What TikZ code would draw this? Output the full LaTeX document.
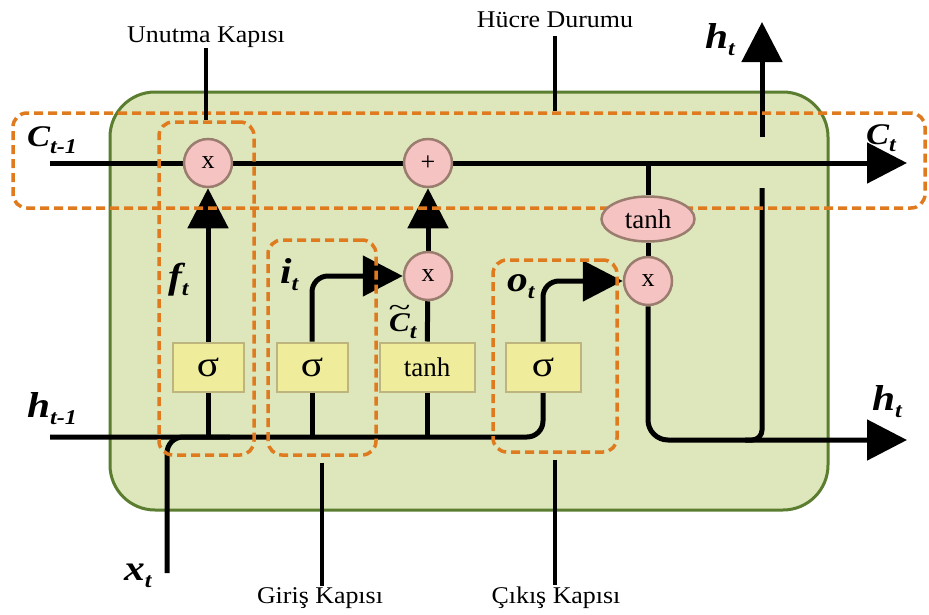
\documentclass[tikz,border=0pt]{standalone}
\usepackage{fontspec}
\usepackage{graphicx}
\setmainfont{Liberation Serif}
\newfontfamily\capfont[FakeStretch=1.08]{Liberation Serif}
\newfontfamily\wideserif[FakeStretch=1.15]{Liberation Serif}
\usetikzlibrary{arrows.meta,shapes.geometric}

\definecolor{cellfill}{HTML}{DDE7BB}
\definecolor{celledge}{HTML}{5A7D2F}
\definecolor{gateorange}{HTML}{E07A1F}
\definecolor{oppink}{HTML}{F5C3C1}
\definecolor{opedge}{HTML}{9B7D70}
\definecolor{actfill}{HTML}{EFEC9C}
\definecolor{actedge}{HTML}{BDB47E}

\pgfdeclarelayer{cellbg}
\pgfdeclarelayer{wires}
\pgfdeclarelayer{gates}
\pgfsetlayers{cellbg,wires,gates,main}

% subscript for the bold italic symbols
\newcommand\lowsub[1]{\raisebox{-7pt}{\fontsize{21}{21}\selectfont #1}}
% wide tilde set over a letter
\newcommand\widetil[1]{\ooalign{#1\cr\hidewidth\raisebox{0.55em}{\mdseries\upshape\scalebox{1.3}[1]{\char"007E}}\hidewidth\cr}}

\tikzset{
  cell/.style={rectangle, rounded corners=45pt, fill=cellfill, draw=celledge,
    line width=3pt, inner sep=0pt},
  wire/.style={line width=5pt, black},
  flow/.style={wire, -{Triangle[length=40pt,width=40pt]}},
  tick/.style={line width=4pt, black},
  op/.style={circle, fill=oppink, draw=opedge, line width=2.5pt,
    minimum size=48pt, inner sep=0pt, font=\fontsize{26}{26}\selectfont},
  opoval/.style={ellipse, fill=oppink, draw=opedge, line width=2.5pt,
    minimum width=93pt, minimum height=45pt, inner sep=0pt,
    font=\fontsize{27}{27}\selectfont},
  act/.style={rectangle, fill=actfill, draw=actedge, line width=2pt,
    minimum width=71pt, minimum height=49pt, inner sep=0pt,
    font=\wideserif\fontsize{36}{36}\selectfont},
  gate/.style={rectangle, draw=gateorange, line width=3.5pt,
    dash pattern=on 9pt off 5pt, rounded corners=14pt, inner sep=0pt},
  caption/.style={font=\capfont\fontsize{24}{24}\selectfont, inner sep=1pt,
    anchor=base},
  sym/.style={font=\wideserif\fontsize{36}{36}\selectfont\bfseries\itshape,
    inner sep=0pt, anchor=base west},
  capsym/.style={sym, font=\wideserif\fontsize{30}{30}\selectfont\bfseries\itshape},
}

\begin{document}
\begin{tikzpicture}[x=1pt, y=-1pt]
\useasboundingbox (0,0) rectangle (929,614);

% LSTM cell body
\begin{pgfonlayer}{cellbg}
  \node[cell, minimum width=718pt, minimum height=418pt] (cellbody) at (469,301) {};
\end{pgfonlayer}

% pointwise operations
\node[op] (xf) at (208,163) {x};
\node[op] (plus) at (428,163) {+};
\node[op] (xi) at (428,276) {x};
\node[op] (xo) at (648,281) {x};
\node[opoval] (to) at (648,219) {tanh};

% layer activations
\node[act] (sf) at (208,367) {σ};
\node[act] (si) at (312,367) {σ};
\node[act, minimum width=95pt, font=\fontsize{27}{27}\selectfont] (tc) at (427,367) {tanh};
\node[act, minimum width=75pt] (so) at (543,367) {σ};

% free ends of the wires
\coordinate (cin) at (50,163);
\coordinate (cout) at (907,163);
\coordinate (hin) at (50,437);
\coordinate (xin) at (167,573);
\coordinate (xjoin) at (230,437);
\coordinate (csplit) at (648,163);
\coordinate (hout) at (907,440);
\coordinate (hrise) at (745,440);
\coordinate (hgap) at (762,188);
\coordinate (hexit) at (762,137);
\coordinate (htop) at (762,22);

% gate outlines
\begin{pgfonlayer}{gates}
  \node[gate, minimum width=912pt, minimum height=95pt] (cgate) at (469,160.5) {};
  \node[gate, minimum width=95pt, minimum height=333pt] (fgate) at (206.5,288.5) {};
  \node[gate, minimum width=108pt, minimum height=215pt] (igate) at (322,347.5) {};
  \node[gate, minimum width=124pt, minimum height=192pt] (ogate) at (555,356) {};
\end{pgfonlayer}

% signal paths
\begin{pgfonlayer}{wires}
  \draw[flow] (cin) -- (cout);
  \draw[wire, rounded corners=16pt] (hin) -| (so.south);
  \draw[wire, rounded corners=16pt] (xin) |- (xjoin);
  \draw[wire] (sf.south) -- (sf.south |- hin);
  \draw[flow] (sf) -- (xf);
  \draw[wire] (si.south) -- (si.south |- hin);
  \draw[flow, rounded corners=16pt] (si.north) |- (xi);
  \draw[wire] (tc.south) -- (tc.south |- hin);
  \draw[wire] (tc) -- (xi);
  \draw[flow] (xi) -- (plus);
  \draw[flow, rounded corners=16pt] (so.north) |- (xo);
  \draw[wire] (csplit) -- (to) -- (xo);
  \draw[flow, rounded corners=20pt] (xo) |- (hout);
  \draw[wire, rounded corners=10pt] (hrise) -| (hgap);
  \draw[flow] (hexit) -- (htop);
\end{pgfonlayer}

% gate captions
\node[caption] (lu) at (206,42) {Unutma Kapısı};
\node[caption] (lh) at (555,27) {Hücre Durumu};
\node[caption] (lg) at (320,603) {Giriş Kapısı};
\node[caption] (lc) at (556,603) {Çıkış Kapısı};
\draw[tick] (lu.south) -- (lu.south |- fgate.north);
\draw[tick, shorten <=8pt] (lh.south) -- (lh.south |- cgate.north);
\draw[tick, shorten <=6pt] (igate.south) -- (igate.south |- lg.north);
\draw[tick, shorten <=6pt] (ogate.south) -- (ogate.south |- lc.north);

% state and signal symbols
\node[capsym] (lcprev) at (27,146) {C\lowsub{t-1}};
\node[capsym] (lcnext) at (866,144) {C\lowsub{t}};
\node[sym] (lhup) at (705,48) {h\lowsub{t}};
\node[sym] (lhout) at (872,410) {h\lowsub{t}};
\node[sym] (lhprev) at (27,417) {h\lowsub{t-1}};
\node[sym] (lx) at (124,580) {x\lowsub{t}};
\node[sym] (lf) at (168,288) {f\lowsub{t}};
\node[sym] (li) at (280,283) {i\lowsub{t}};
\node[sym] (lo) at (507,291) {o\lowsub{t}};
\node[capsym, font=\wideserif\fontsize{27}{27}\selectfont\bfseries\itshape] (lcand) at (389,331) {\widetil{C}\lowsub{t}};
\end{tikzpicture}
\end{document}
